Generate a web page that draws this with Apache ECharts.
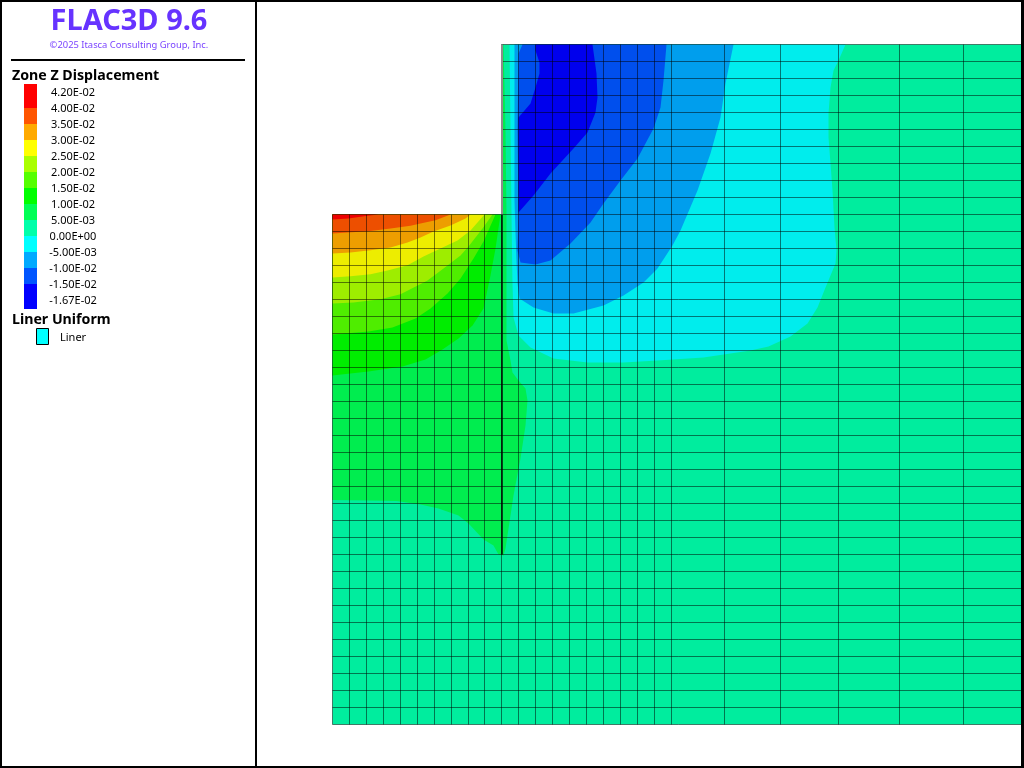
<!DOCTYPE html>
<html>
<head>
<meta charset="utf-8">
<title>FLAC3D Zone Z Displacement</title>
<style>html,body{margin:0;padding:0;background:#fff}#c{width:1024px;height:768px}</style>
<script src="https://cdn.jsdelivr.net/npm/echarts@6/dist/echarts.min.js"></script>
</head>
<body>
<div id="c"></div>
<script>
// Legend
const legendLabels = ["4.20E-02","4.00E-02","3.50E-02","3.00E-02","2.50E-02","2.00E-02","1.50E-02","1.00E-02","5.00E-03","0.00E+00","-5.00E-03","-1.00E-02","-1.50E-02","-1.67E-02"];
const legendColors = ["#ff0000","#ff5500","#ffaa00","#ffff00","#aaff00","#55ff00","#00ff00","#00ff55","#00ffaa","#00ffff","#00aaff","#0055ff","#0000ff"];
// Model mesh lines (model units, 17 per zone near the excavation)
const meshXLeft = [0,17,34,51,68,85,102,119,136,152,169];
const meshXRight = [186,203,220,237,254,271,288,305,322,339,392,448,506,567,631,692];
const meshY = [680,663,646,629,612,595,578,561,544,527,510,493,476,459,442,425,408,391,374,357,340,323,306,289,272,255,238,221,204,187,170,153,136,119,102,85,68,51,34,17,0];
// Contour band outlines (x, elevation in model units), low to high painting order
const bandBase = [[0,510],[169,510],[169,680],[692,680],[692,0],[0,0]];
const bandP05 = [[0,510],[169,510],[169,680],[171,680],[173,594],[174,510],[174,441],[174,384],[178,364],[180,352],[186,344],[193,336],[195,324],[193,299],[188,266],[181,229],[173,176],[171,169],[166,170],[161,179],[151,185],[136,201],[126,209],[106,216],[88,220],[64,223.5],[36,224],[0,224.5]];
const bandP10 = [[0,510],[168,510],[163,476],[158,449],[151,416],[140,399],[126,386],[110,375],[93,365],[70,358],[36,353],[0,349]];
const bandP15 = [[0,510],[163,510],[151,483],[141,466],[128,446],[115,431],[98,416],[83,406],[60,397],[36,393],[0,390]];
const bandP20 = [[0,510],[160,510],[150,496],[136,478],[128,469],[111,456],[95,444],[68,430.3],[48,425.3],[21,422],[0,421]];
const bandP25 = [[0,510],[152,510],[138,494],[125,484],[108,476],[91,468],[75,459.3],[55,454],[38,450.3],[18,448.3],[0,447]];
const bandP30 = [[0,510],[138,510],[133,506],[118,499],[101,493],[88,487],[75,482],[58,477],[38,474.3],[18,472],[0,471]];
const bandP35 = [[0,510],[118,510],[103,504.3],[88,501],[78,498.7],[58,496],[36,493.3],[15,492],[0,491]];
const bandP40 = [[0,510],[46,510],[35,508.7],[16,506],[0,505]];
const bandN00 = [[177,680],[513,680],[506,664],[501,654],[498,637],[496,611],[496,587],[498,561],[500,534],[502,497],[504,474],[503,461],[493,437],[485,417],[475,401],[458,388],[436,378],[418,374],[371,367],[325,364],[291,362],[255,362],[221,366],[198,377],[186,389],[181,407],[180,441],[179,510]];
const bandN05 = [[182,680],[401,680],[393,641],[388,607],[378,571],[365,534],[348,494],[340,479],[325,456],[311,442],[291,429],[271,419],[241,411],[221,411],[201,417],[187,426],[185,441],[184,464],[183,491],[182,524]];
const bandN10 = [[190,680],[334,680],[331,644],[328,617],[321,596],[305,566],[288,544],[271,521],[258,502],[238,481],[218,464],[203,460],[188,462],[185,474],[186,514],[185,594],[186,671]];
const bandN15 = [[203,680],[260,680],[264,651],[265,627],[263,612],[255,592],[241,576],[218,551],[201,529],[186,512],[186,607],[198,621],[203,637],[207,651],[207,662],[203,674]];
// Liner trace (x, top elevation, bottom elevation)
const linerUpper = [169.5,680,510];
const linerLower = [169.5,510,170];

const bands = [
  [bandBase,"#00ed9e"],[bandP05,"#00ed4f"],[bandP10,"#00ed00"],[bandP15,"#4fed00"],[bandP20,"#9eed00"],
  [bandP25,"#eded00"],[bandP30,"#ed9e00"],[bandP35,"#ed4f00"],[bandP40,"#ed0000"],
  [bandN00,"#00eded"],[bandN05,"#009eed"],[bandN10,"#004fed"],[bandN15,"#0000ed"]
];

const meshLines = [];
const allX = meshXLeft.concat(meshXRight);
allX.forEach(x => meshLines.push([x, x < 169 ? 510 : 680, x, 0]));
meshY.forEach(y => meshLines.push([y > 510 ? 169 : 0, y, 692, y]));

const chart = echarts.init(document.getElementById('c'), null, {renderer:'canvas'});
const FONT = '"Noto Sans","Open Sans",sans-serif';
const black = '#000';
const g = [];
// frame
g.push({type:'rect',shape:{x:0,y:0,width:1024,height:2},style:{fill:black},z:100});
g.push({type:'rect',shape:{x:0,y:766,width:1024,height:2},style:{fill:black},z:100});
g.push({type:'rect',shape:{x:0,y:0,width:2,height:768},style:{fill:black},z:100});
g.push({type:'rect',shape:{x:1021,y:0,width:3,height:768},style:{fill:black},z:100});
g.push({type:'rect',shape:{x:255,y:0,width:2,height:768},style:{fill:black},z:100});
g.push({type:'rect',shape:{x:11,y:59,width:234,height:2},style:{fill:black},z:100});
g.push({type:'text',style:{text:'FLAC3D 9.6',x:129,y:22,align:'center',verticalAlign:'middle',font:'bold 29px '+FONT,fill:'#6633ff'},z:100});
g.push({type:'text',style:{text:'©2025 Itasca Consulting Group, Inc.',x:129,y:45.5,align:'center',verticalAlign:'middle',font:'9.4px '+FONT,fill:'#7a44ff'},z:100});
g.push({type:'text',style:{text:'Zone Z Displacement',x:12,y:75.5,align:'left',verticalAlign:'middle',font:'bold 14.2px '+FONT,fill:black},z:100});
g.push({type:'text',style:{text:'Liner Uniform',x:12,y:319.5,align:'left',verticalAlign:'middle',font:'bold 14.2px '+FONT,fill:black},z:100});
g.push({type:'text',style:{text:'Liner',x:60,y:337.5,align:'left',verticalAlign:'middle',font:'11px '+FONT,fill:black},z:100});
g.push({type:'rect',shape:{x:36.5,y:328.5,width:12,height:16},style:{fill:'#00ffff',stroke:black,lineWidth:1},z:100});
legendColors.forEach((c,i)=>{
  const top = i===0 ? 84 : 92+16*i;
  const bot = i===legendColors.length-1 ? 309 : 108+16*i;
  g.push({type:'rect',shape:{x:24,y:top,width:13,height:bot-top},style:{fill:c},z:100});
});
legendLabels.forEach((t,i)=>{
  g.push({type:'text',style:{text:t,x:73,y:93+16*i,align:'center',verticalAlign:'middle',font:'11px '+FONT,fill:black},z:100});
});

chart.setOption({
  animation:false,
  backgroundColor:'#fff',
  grid:{left:0,right:0,top:0,bottom:0,containLabel:false},
  xAxis:{type:'value',min:-332.5,max:691.5,show:false},
  yAxis:{type:'value',min:-43.5,max:724.5,show:false},
  graphic:g,
  series:[
    {type:'custom',name:'contours',coordinateSystem:'cartesian2d',z:2,silent:true,clip:true,
     data:bands.map((b,i)=>[i]),encode:{x:[],y:[]},
     renderItem:(p,api)=>{
       const b = bands[p.dataIndex];
       return {type:'polygon',shape:{points:b[0].map(q=>api.coord(q))},style:{fill:b[1],stroke:null}};
     }},
    {type:'custom',name:'mesh',coordinateSystem:'cartesian2d',z:3,silent:true,clip:true,
     data:meshLines,encode:{x:[0,2],y:[1,3]},
     renderItem:(p,api)=>{
       const a = api.coord([api.value(0),api.value(1)]), c = api.coord([api.value(2),api.value(3)]);
       return {type:'line',shape:{x1:a[0],y1:a[1],x2:c[0],y2:c[1]},style:{stroke:'rgba(0,0,0,0.5)',lineWidth:1}};
     }},
    {type:'custom',name:'liner',coordinateSystem:'cartesian2d',z:4,silent:true,clip:true,
     data:[[...linerUpper,'#8c8c8c',2],[...linerLower,'rgba(0,0,0,0.7)',2]],encode:{x:[0],y:[1,2]},
     renderItem:(p,api)=>{
       const a = api.coord([api.value(0),api.value(1)]), c = api.coord([api.value(0),api.value(2)]);
       return {type:'line',shape:{x1:a[0],y1:a[1],x2:c[0],y2:c[1]},style:{stroke:api.value(3),lineWidth:api.value(4)}};
     }}
  ]
});
</script>
</body>
</html>
